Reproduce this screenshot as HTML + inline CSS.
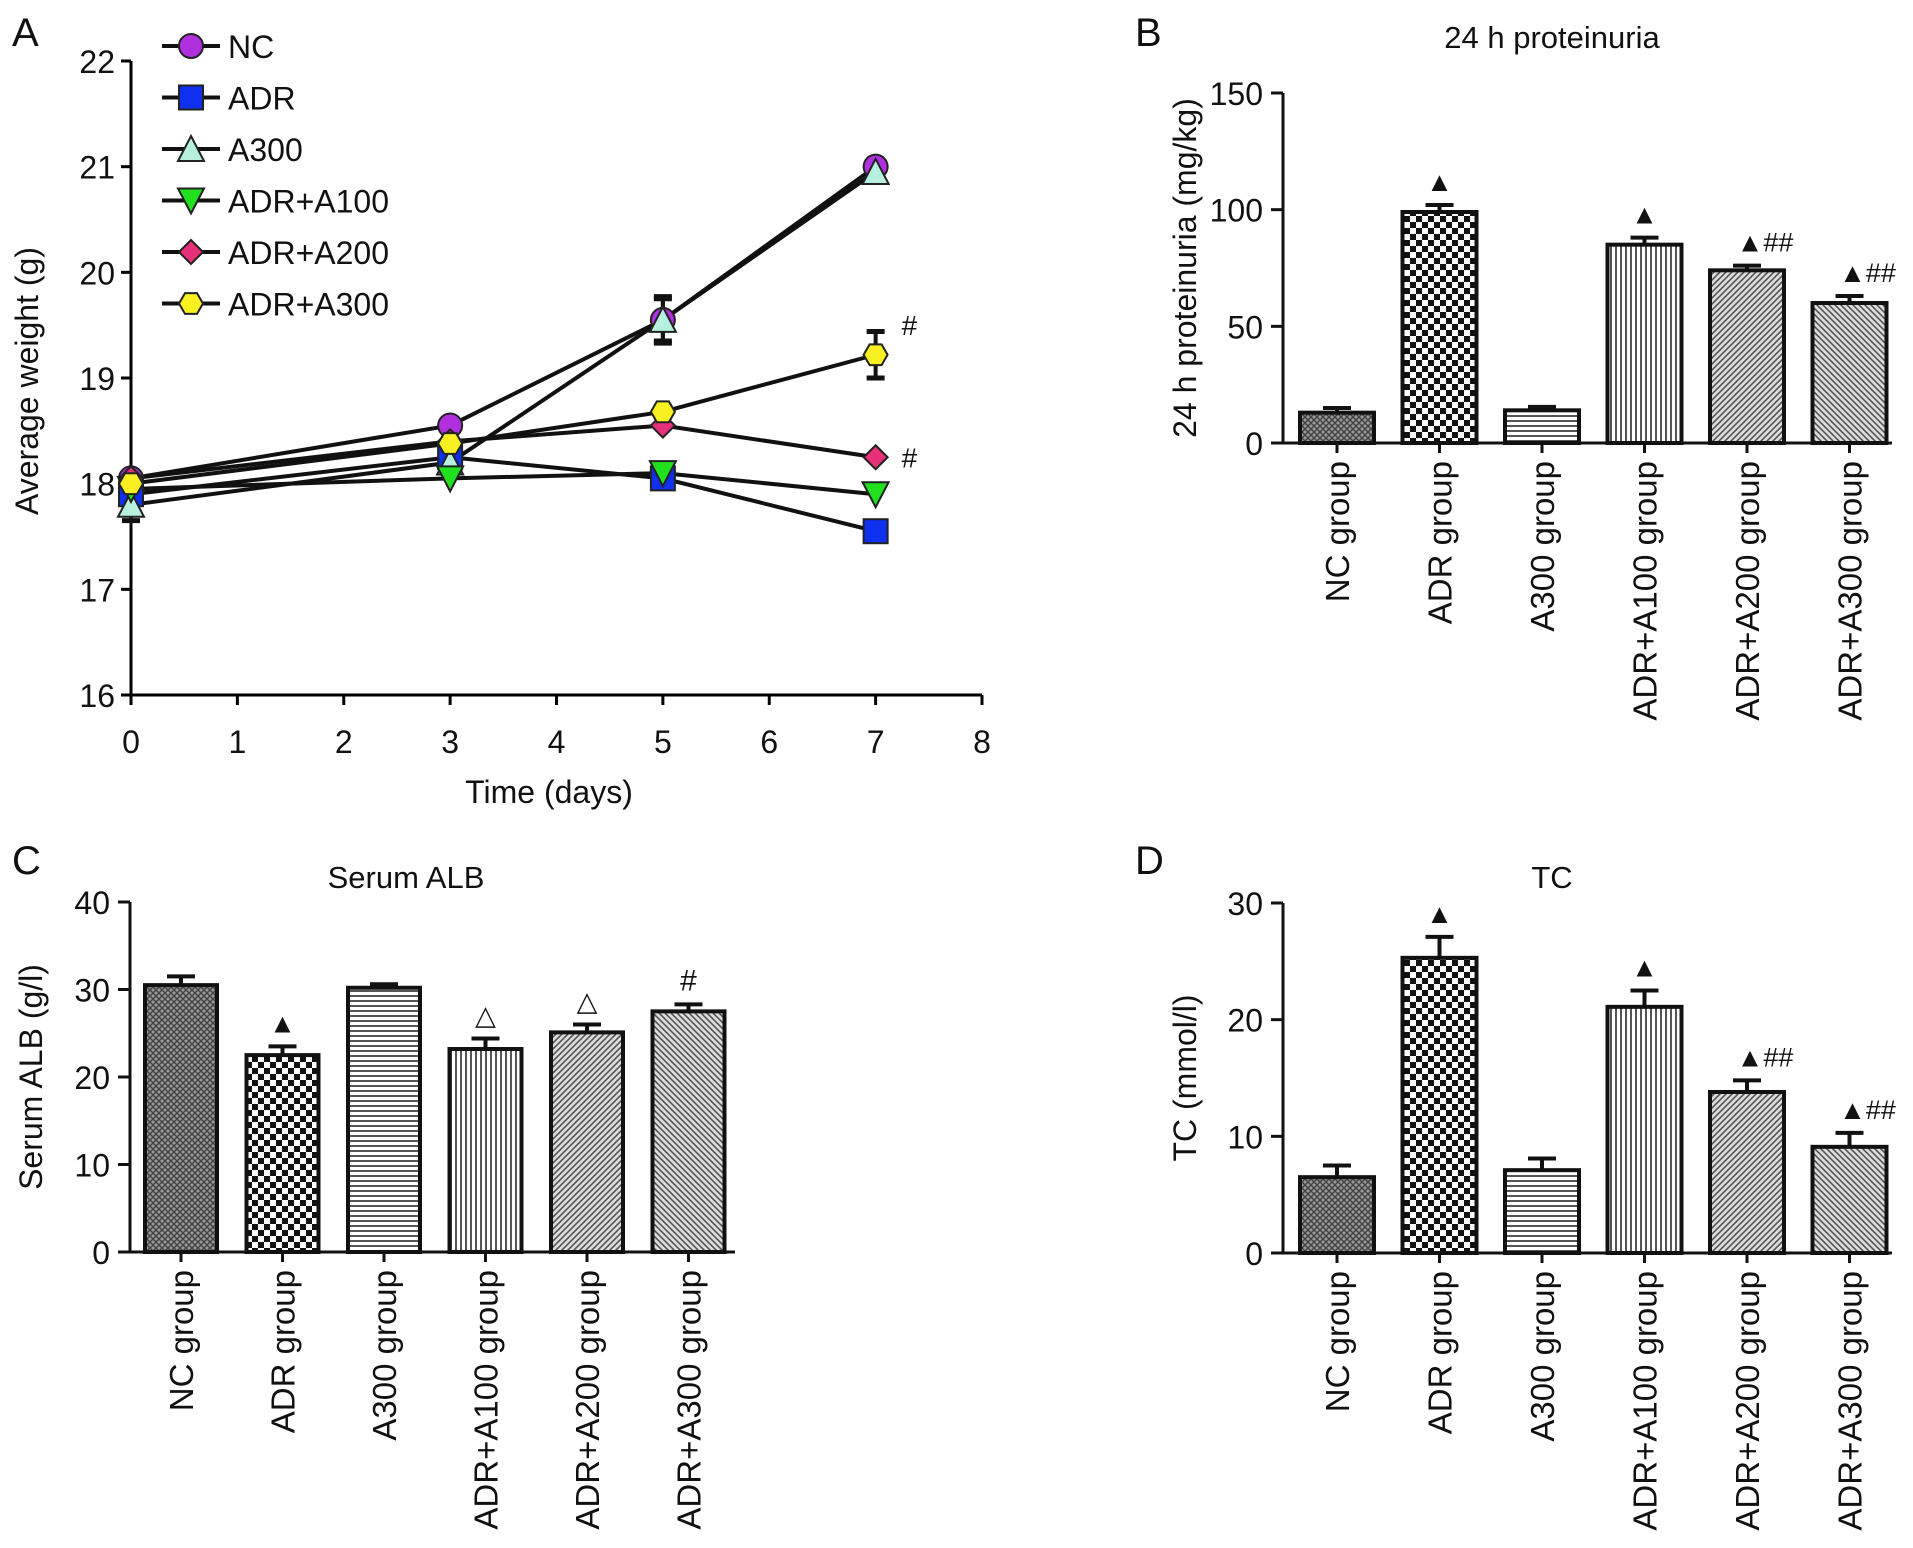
<!DOCTYPE html>
<html><head><meta charset="utf-8"><style>
html,body{margin:0;padding:0;background:#fff;}
svg{display:block;font-family:"Liberation Sans",sans-serif;}
</style></head><body>
<svg id="fig" width="1913" height="1548" viewBox="0 0 1913 1548" xmlns="http://www.w3.org/2000/svg">
<defs>
<pattern id="p0" width="6" height="6" patternUnits="userSpaceOnUse"><rect width="6" height="6" fill="#9a9a9a"/><path d="M0 0L6 6M6 0L0 6" stroke="#444" stroke-width="1.5"/></pattern>
<pattern id="p1" width="12" height="12" patternUnits="userSpaceOnUse"><rect width="12" height="12" fill="#fff"/><rect width="6" height="6" fill="#111"/><rect x="6" y="6" width="6" height="6" fill="#111"/></pattern>
<pattern id="p2" width="8" height="5" patternUnits="userSpaceOnUse"><rect width="8" height="5" fill="#fff"/><rect width="8" height="2" fill="#555"/></pattern>
<pattern id="p3" width="5" height="8" patternUnits="userSpaceOnUse"><rect width="5" height="8" fill="#fff"/><rect width="2" height="8" fill="#555"/></pattern>
<pattern id="p4" width="6" height="6" patternUnits="userSpaceOnUse"><rect width="6" height="6" fill="#ddd"/><path d="M-1 7L7 -1M-1 1L1 -1M5 7L7 5" stroke="#555" stroke-width="1.6"/></pattern>
<pattern id="p5" width="6" height="6" patternUnits="userSpaceOnUse"><rect width="6" height="6" fill="#ddd"/><path d="M-1 -1L7 7M5 -1L7 1M-1 5L1 7" stroke="#555" stroke-width="1.6"/></pattern>
</defs>
</svg>
<script>
// ---- Panel A data ----
const days = [0, 3, 5, 7];
const seriesNames = ["NC", "ADR", "A300", "ADR+A100", "ADR+A200", "ADR+A300"];
const wNC = [18.05, 18.55, 19.55, 21.0];
const wADR = [17.9, 18.25, 18.05, 17.55];
const wA300 = [17.8, 18.2, 19.55, 20.95];
const wA100 = [17.95, 18.05, 18.1, 17.9];
const wA200 = [18.05, 18.4, 18.55, 18.25];
const wADRA300 = [18.0, 18.38, 18.68, 19.22];
const errNC = [0.05, 0.05, 0.22, 0.05];
const errADRA300 = [0.05, 0.05, 0.05, 0.22];
const errA300 = [0.15, 0.05, 0.2, 0.05];
const xTicksA = [0,1,2,3,4,5,6,7,8];
const yTicksA = [16,17,18,19,20,21,22];
// ---- Bar data ----
const groups = ["NC group","ADR group","A300 group","ADR+A100 group","ADR+A200 group","ADR+A300 group"];
const protVals = [13, 99, 14, 85, 74, 60];
const protErr = [2, 3, 1.5, 3, 2, 3];
const protMarks = ["", "▲", "", "▲", "▲##", "▲##"];
const albVals = [30.5, 22.5, 30.2, 23.2, 25.1, 27.5];
const albErr = [1, 1, 0.4, 1.2, 0.9, 0.8];
const albMarks = ["", "▲", "", "△", "△", "#"];
const tcVals = [6.5, 25.3, 7.1, 21.1, 13.8, 9.1];
const tcErr = [1, 1.8, 1, 1.4, 1, 1.2];
const tcMarks = ["", "▲", "", "▲", "▲##", "▲##"];
const protTicks = [0, 50, 100, 150];
const albTicks = [0, 10, 20, 30, 40];
const tcTicks = [0, 10, 20, 30];

const NS = "http://www.w3.org/2000/svg";
const svg = document.getElementById("fig");
function el(tag, attrs, parent, text){
  const e = document.createElementNS(NS, tag);
  for (const k in attrs) e.setAttribute(k, attrs[k]);
  if (text !== undefined) e.textContent = text;
  (parent || svg).appendChild(e);
  return e;
}
function txt(x,y,s,size,anchor,parent,extra){
  const a = Object.assign({x:x,y:y,"font-size":size,"text-anchor":anchor||"middle",fill:"#111"}, extra||{});
  return el("text", a, parent, s);
}

// ---------------- Panel A ----------------
const gA = el("g", {});


const ax0 = 131, ax1 = 982, ay0 = 695, ay1 = 61;
const xA = d => ax0 + (d - 0) / 8 * (ax1 - ax0);
const yA = v => ay0 - (v - 16) / 6 * (ay0 - ay1);
let t = txt(12, 46, "A", 40, "start", gA);  
el("line",{x1:ax0,y1:ay1,x2:ax0,y2:ay0,stroke:"#000","stroke-width":3},gA);
el("line",{x1:ax0,y1:ay0,x2:ax1,y2:ay0,stroke:"#000","stroke-width":3},gA);
yTicksA.forEach(v=>{
  el("line",{x1:ax0-10,y1:yA(v),x2:ax0,y2:yA(v),stroke:"#000","stroke-width":3},gA);
  const l = txt(ax0-16, yA(v)+12, String(v), 32, "end", gA);
   
});
xTicksA.forEach(d=>{
  el("line",{x1:xA(d),y1:ay0,x2:xA(d),y2:ay0+10,stroke:"#000","stroke-width":3},gA);
  const l = txt(xA(d), ay0+58, String(d), 32, "middle", gA);
   
});
t = txt(549, 803, "Time (days)", 32, "middle", gA);  
t = txt(0, 0, "Average weight (g)", 32, "middle", gA, {transform:"translate(38,381) rotate(-90)"});  

const sData = [wNC, wADR, wA300, wA100, wA200, wADRA300];
const sErr = [errNC, null, errA300, null, null, errADRA300];
const colors = ["#b030e0","#1030f0","#b8f0e0","#20e020","#e8307a","#f8f020"];
const shapes = ["circle","square","triangle","tridown","diamond","hexagon"];
function marker(shape, cx, cy, color, parent){
  const s = 12; let e;
  const base = {fill:color, stroke:"#222","stroke-width":2};
  if (shape==="circle") e = el("circle", Object.assign({cx:cx,cy:cy,r:s},base), parent);
  else if (shape==="square") e = el("rect", Object.assign({x:cx-s,y:cy-s,width:2*s,height:2*s},base), parent);
  else if (shape==="triangle") e = el("polygon", Object.assign({points:`${cx},${cy-s-1} ${cx+s+1},${cy+s} ${cx-s-1},${cy+s}`},base), parent);
  else if (shape==="tridown") e = el("polygon", Object.assign({points:`${cx-s-1},${cy-s} ${cx+s+1},${cy-s} ${cx},${cy+s+1}`},base), parent);
  else if (shape==="diamond") e = el("polygon", Object.assign({points:`${cx},${cy-s} ${cx+s},${cy} ${cx},${cy+s} ${cx-s},${cy}`},base), parent);
  else { let p=[]; for(let i=0;i<6;i++){const a=Math.PI/3*i; p.push((cx+s*Math.cos(a)).toFixed(1)+","+(cy+s*Math.sin(a)).toFixed(1));} e = el("polygon", Object.assign({points:p.join(" ")},base), parent); }
  return e;
}
sData.forEach((arr, si)=>{
  const g = el("g", {}, gA);
  
  
  const pts = arr.map((v,i)=>xA(days[i])+","+yA(v)).join(" ");
  el("polyline",{points:pts,fill:"none",stroke:"#111","stroke-width":4},g);
  if (sErr[si]) sErr[si].forEach((e,i)=>{
    const x = xA(days[i]);
    el("line",{x1:x,y1:yA(arr[i]-e),x2:x,y2:yA(arr[i]+e),stroke:"#111","stroke-width":4},g);
    el("line",{x1:x-9,y1:yA(arr[i]-e),x2:x+9,y2:yA(arr[i]-e),stroke:"#111","stroke-width":5},g);
    el("line",{x1:x-9,y1:yA(arr[i]+e),x2:x+9,y2:yA(arr[i]+e),stroke:"#111","stroke-width":5},g);
  });
});
sData.forEach((arr, si)=>{
  arr.forEach((v,i)=>{
    const m = marker(shapes[si], xA(days[i]), yA(v), colors[si], gA);
    
    
  });
});
t = txt(xA(7)+26, yA(wADRA300[3])-20, "#", 28, "start", gA);  
t = txt(xA(7)+26, yA(wA200[3])+10, "#", 28, "start", gA);  
// legend
const gL = el("g", {}, gA);


seriesNames.forEach((n,i)=>{
  const y = 46 + i*51.5;
  const ge = el("g", {}, gL);
  
  
  el("line",{x1:162,y1:y,x2:220,y2:y,stroke:"#111","stroke-width":4},ge);
  marker(shapes[i], 191, y, colors[i], ge);
  txt(228, y+12, n, 32, "start", ge);
});

// ---------------- Bar panels ----------------
const pats = ["url(#p0)","url(#p1)","url(#p2)","url(#p3)","url(#p4)","url(#p5)"];
function barPanel(o){
  const g = el("g", {});
  
  
  const y = v => o.y0 - v / o.max * (o.y0 - o.y1);
  let l = txt(o.letterX, o.letterY, o.letter, 40, "start", g);  
  l = txt(o.titleX, o.titleY, o.title, 31, "middle", g);  
  l = txt(0,0,o.ytitle,32,"middle",g,{transform:`translate(${o.ytx},${(o.y0+o.y1)/2}) rotate(-90)`});  
  const cx = i => o.c0 + i * o.step;
  o.vals.forEach((v,i)=>{
    const bw = o.bw, x = cx(i) - bw/2;
    const top = y(v);
    const r = el("rect",{x:x,y:top,width:bw,height:o.y0-top,fill:pats[i],stroke:"#111","stroke-width":4},g);
    
    
    const ey = y(v + o.err[i]);
    el("line",{x1:cx(i),y1:top,x2:cx(i),y2:ey,stroke:"#111","stroke-width":4},g);
    el("line",{x1:cx(i)-14,y1:ey,x2:cx(i)+14,y2:ey,stroke:"#111","stroke-width":4},g);
    if (o.marks[i]) {
      const m = txt(cx(i)+(o.marks[i].length>1?18:0), ey-14, o.marks[i], o.marks[i]==="#"?30:27, "middle", g);
       
    }
    el("line",{x1:cx(i),y1:o.y0,x2:cx(i),y2:o.y0+10,stroke:"#111","stroke-width":3},g);
    const lab = txt(0,0,groups[i],33,"end",g,{transform:`translate(${cx(i)+12},${o.y0+18}) rotate(-90)`});
     
  });
  el("line",{x1:o.x0,y1:o.y1,x2:o.x0,y2:o.y0,stroke:"#111","stroke-width":3},g);
  el("line",{x1:o.x0-12,y1:o.y0,x2:o.xEnd,y2:o.y0,stroke:"#111","stroke-width":3},g);
  o.ticks.forEach(v=>{
    el("line",{x1:o.x0-12,y1:y(v),x2:o.x0,y2:y(v),stroke:"#111","stroke-width":3},g);
    const tl = txt(o.x0-o.tgap, y(v)+12, String(v), 32, "end", g);
     
  });
}
barPanel({name:"panel-b-proteinuria",letter:"B",letterX:1135,letterY:46,title:"24 h proteinuria",titleX:1552,titleY:48,
  ytitle:"24 h proteinuria (mg/kg)",ytx:1196,x0:1283,tgap:20,y0:443,y1:93,max:150,xEnd:1892,c0:1337,step:102.5,bw:74,
  vals:protVals,err:protErr,marks:protMarks,ticks:protTicks});
barPanel({name:"panel-c-serum-alb",letter:"C",letterX:12,letterY:874,title:"Serum ALB",titleX:406,titleY:888,
  ytitle:"Serum ALB (g/l)",ytx:42,x0:130,tgap:20,y0:1252,y1:902,max:40,xEnd:735,c0:181,step:101.5,bw:72,
  vals:albVals,err:albErr,marks:albMarks,ticks:albTicks});
barPanel({name:"panel-d-tc",letter:"D",letterX:1135,letterY:874,title:"TC",titleX:1552,titleY:888,
  ytitle:"TC (mmol/l)",ytx:1196,x0:1283,tgap:20,y0:1253,y1:903,max:30,xEnd:1892,c0:1337,step:102.5,bw:74,
  vals:tcVals,err:tcErr,marks:tcMarks,ticks:tcTicks});
</script>
</body></html>
